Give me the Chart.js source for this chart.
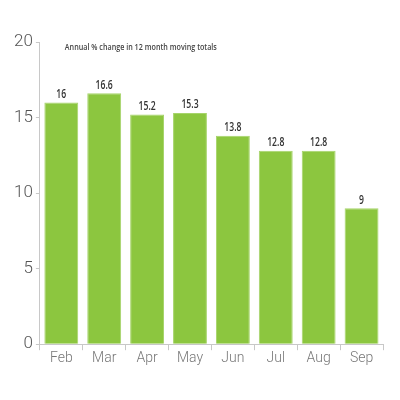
<!DOCTYPE html>
<html><head><meta charset="utf-8">
<script src="https://cdn.jsdelivr.net/npm/chart.js@4"></script>
<style>html,body{margin:0;padding:0;background:#fff}#wrap{width:400px;height:400px}</style>
</head><body><div id="wrap"><canvas id="c"></canvas></div>
<script>
const categories = ["Feb","Mar","Apr","May","Jun","Jul","Aug","Sep"];
const values = [16, 16.6, 15.2, 15.3, 13.8, 12.8, 12.8, 9];
const yTicks = [0, 5, 10, 15, 20];
const titleText = "Annual % change in 12 month moving totals";

function condensedText(ctx, text, x, y, sx) {
  ctx.save();
  ctx.translate(x, y);
  ctx.scale(sx, 1);
  ctx.fillText(text, 0, 0);
  ctx.restore();
}

const labelPlugin = {
  id: 'labels',
  afterDatasetsDraw(chart) {
    const ctx = chart.ctx;
    const meta = chart.getDatasetMeta(0);
    ctx.save();
    ctx.fillStyle = '#333';
    ctx.font = '600 12px "Open Sans", sans-serif';
    ctx.textAlign = 'center';
    ctx.textBaseline = 'bottom';
    meta.data.forEach((bar, i) => {
      condensedText(ctx, String(values[i]), bar.x, bar.y - 2, 0.72);
    });
    ctx.font = '600 9px "Open Sans", sans-serif';
    ctx.fillStyle = '#444';
    ctx.textAlign = 'left';
    ctx.textBaseline = 'middle';
    const w = ctx.measureText(titleText).width;
    condensedText(ctx, titleText, chart.chartArea.left + 25, chart.chartArea.top + 5, 152 / w);
    ctx.restore();
  }
};

new Chart(document.getElementById('c'), {
  type: 'bar',
  data: {
    labels: categories,
    datasets: [{
      data: values,
      backgroundColor: '#8cc63f',
      borderColor: '#a6d46a',
      borderWidth: {top: 1, left: 1, right: 1, bottom: 0},
      barPercentage: 0.79,
      categoryPercentage: 1.0
    }]
  },
  options: {
    responsive: true,
    maintainAspectRatio: false,
    animation: false,
    layout: {padding: {top: 42, right: 17, bottom: 33, left: 11}},
    plugins: {legend: {display: false}, tooltip: {enabled: false}, title: {display: false}},
    scales: {
      x: {
        grid: {display: true, drawOnChartArea: false, offset: true, color: '#c8c8c8', tickLength: 6},
        border: {color: '#c8c8c8', width: 1},
        ticks: {color: '#777', font: {family: 'Roboto', weight: 300, size: 14}, padding: 0}
      },
      y: {
        min: 0, max: 20,
        afterBuildTicks(axis) { axis.ticks = yTicks.map(v => ({value: v})); },
        grid: {display: true, drawOnChartArea: false, color: '#c8c8c8', tickLength: 4},
        border: {color: '#c8c8c8', width: 1},
        ticks: {color: '#555', font: {family: 'Roboto', weight: 300, size: 17}, padding: 3}
      }
    }
  },
  plugins: [labelPlugin]
});
</script></body></html>
